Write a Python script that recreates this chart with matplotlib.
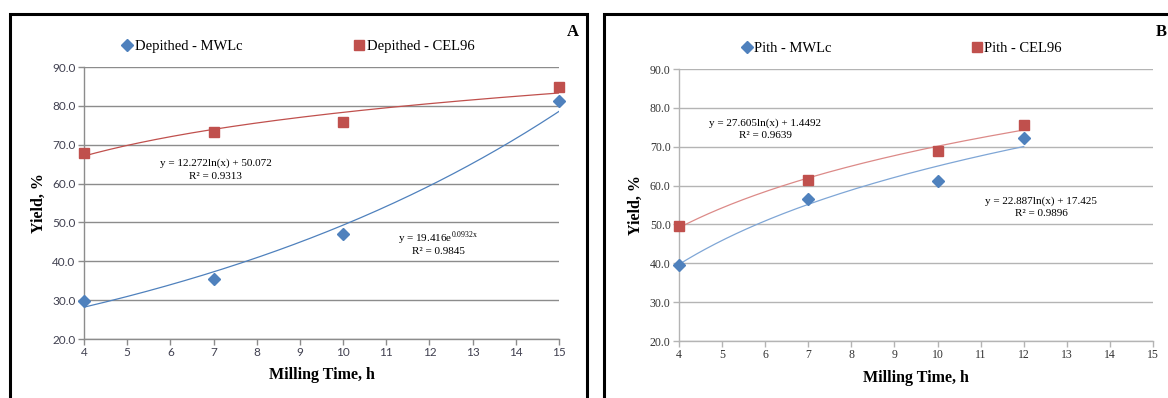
import numpy as np
import matplotlib.pyplot as plt
from matplotlib.patches import Rectangle

plt.rcParams["font.family"] = ["Liberation Serif", "DejaVu Serif"]
plt.rcParams["mathtext.fontset"] = "custom"
plt.rcParams["mathtext.rm"] = "Liberation Serif"

# panel A: depithed bagasse
a_hours = [4, 7, 10, 15]
a_mwlc = [29.8, 35.4, 47.0, 81.3]
a_cel96 = [67.9, 73.2, 75.8, 84.8]
# trendline coefficients as printed on the chart
a_mwlc_exp = (19.416, 0.0932)     # y = a * exp(b x)
a_cel96_log = (12.272, 50.072)    # y = a ln(x) + b

# panel B: pith
b_hours = [4, 7, 10, 12]
b_mwlc = [39.5, 56.5, 61.3, 72.3]
b_cel96 = [49.5, 61.5, 68.8, 75.5]
b_mwlc_log = (27.605, 1.4492)
b_cel96_log = (22.887, 17.425)

BLUE = "#4F81BD"
RED = "#C0504D"

fig = plt.figure(figsize=(11.68, 3.98), dpi=100)

# black panel frames (open at the bottom edge of the image)
W, H = 1168, 398
for x0, x1 in [(10, 587), (604, 1172)]:
    fig.add_artist(Rectangle((x0 / W, -0.05), (x1 - x0) / W, 1.05 - 14 / H,
                             transform=fig.transFigure, fill=False,
                             ec="black", lw=2.2, clip_on=False))


def setup(ax, grid_color, tick_font, tick_color, tick_size):
    ax.set_xlim(4, 15)
    ax.set_ylim(20, 90)
    ax.set_xticks(range(4, 16))
    ax.set_yticks(np.arange(20, 91, 10))
    ax.set_yticklabels([f"{v:.1f}" for v in np.arange(20, 91, 10)])
    ax.yaxis.grid(True, color=grid_color, lw=1.0)
    ax.set_axisbelow(True)
    for s in ["top", "right"]:
        ax.spines[s].set_visible(False)
    for s in ["left", "bottom"]:
        ax.spines[s].set_color(grid_color)
        ax.spines[s].set_linewidth(1.0)
    ax.tick_params(axis="both", length=4, width=1.0, color=grid_color,
                   labelsize=tick_size, labelcolor=tick_color, pad=2)
    for lab in ax.get_xticklabels() + ax.get_yticklabels():
        lab.set_family(tick_font)
    ax.set_xlabel("Milling Time, h", fontsize=11.5, fontweight="bold", labelpad=6)
    ax.set_ylabel("Yield, %", fontsize=11.5, fontweight="bold", labelpad=4)


# ---- panel A
axA = fig.add_axes([84 / W, 1 - 339 / H, 475 / W, 272 / H])
setup(axA, "#8c8c8c", "Lato", "#404050", 8.5)
xa = np.linspace(min(a_hours), max(a_hours), 200)
axA.plot(xa, a_mwlc_exp[0] * np.exp(a_mwlc_exp[1] * xa), color=BLUE, lw=0.9)
axA.plot(xa, a_cel96_log[0] * np.log(xa) + a_cel96_log[1], color=RED, lw=0.9)
axA.plot(a_hours, a_mwlc, "D", color=BLUE, ms=6, clip_on=False,
         label="Depithed - MWLc", zorder=4)
axA.plot(a_hours, a_cel96, "s", color=RED, ms=7.5, clip_on=False,
         label="Depithed - CEL96", zorder=4)
axA.text(7.05, 65.3, "y = 12.272ln(x) + 50.072", ha="center", va="center", fontsize=8)
axA.text(7.05, 61.7, "R² = 0.9313", ha="center", va="center", fontsize=8)
axA.text(12.2, 46.0, r"y = 19.416e$^{\mathrm{0.0932x}}$", ha="center", va="center",
         fontsize=8)
axA.text(12.2, 42.4, "R² = 0.9845", ha="center", va="center", fontsize=8)
axA.legend(loc="lower left", bbox_to_anchor=(0.063, 1.03), ncol=2, frameon=False,
           fontsize=10.5, handletextpad=0.05, handlelength=1.0, columnspacing=7.5,
           borderaxespad=0)
fig.text(573 / W, 1 - 32 / H, "A", fontsize=12, fontweight="bold",
         ha="center", va="center")

# ---- panel B
axB = fig.add_axes([679 / W, 1 - 341 / H, 474 / W, 272 / H])
setup(axB, "#b4b4b4", "Liberation Serif", "#333333", 8.5)
xb = np.linspace(min(b_hours), max(b_hours), 200)
axB.plot(xb, b_mwlc_log[0] * np.log(xb) + b_mwlc_log[1], color="#7fa6d6", lw=0.9)
axB.plot(xb, b_cel96_log[0] * np.log(xb) + b_cel96_log[1], color="#dc8a88", lw=0.9)
axB.plot(b_hours, b_mwlc, "D", color=BLUE, ms=6, clip_on=False,
         label="Pith - MWLc", zorder=4)
axB.plot(b_hours, b_cel96, "s", color=RED, ms=7.5, clip_on=False,
         label="Pith - CEL96", zorder=4)
axB.text(6.0, 76.1, "y = 27.605ln(x) + 1.4492", ha="center", va="center", fontsize=8)
axB.text(6.0, 72.9, "R² = 0.9639", ha="center", va="center", fontsize=8)
axB.text(12.4, 55.9, "y = 22.887ln(x) + 17.425", ha="center", va="center", fontsize=8)
axB.text(12.4, 52.8, "R² = 0.9896", ha="center", va="center", fontsize=8)
axB.legend(loc="lower left", bbox_to_anchor=(0.115, 1.03), ncol=2, frameon=False,
           fontsize=10.5, handletextpad=0.0, handlelength=1.0, columnspacing=9.5,
           borderaxespad=0)
fig.text(1161 / W, 1 - 32 / H, "B", fontsize=12, fontweight="bold",
         ha="center", va="center")

fig.savefig("out.png", dpi=100)
